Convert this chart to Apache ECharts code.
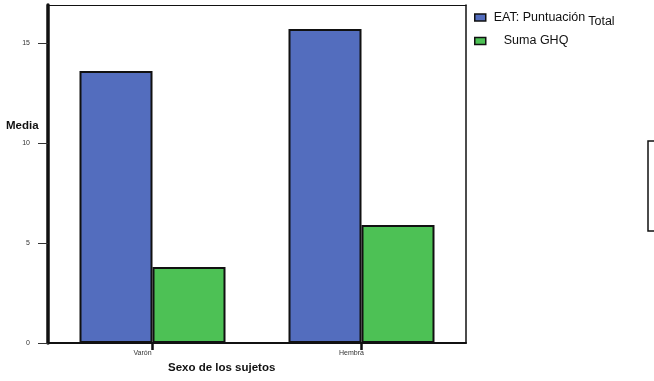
<!DOCTYPE html>
<html>
<head>
<meta charset="utf-8">
<script src="https://cdn.jsdelivr.net/npm/echarts@6/dist/echarts.min.js"></script>
<style>html,body{margin:0;padding:0;background:#fff;}#c{width:654px;height:381px;}</style>
</head>
<body>
<div id="c"></div>
<script>
const categories = ['Varón', 'Hembra'];
const seriesNames = ['EAT: Puntuación Total', 'Suma GHQ'];
const eatValues = [13.6, 15.7];
const ghqValues = [3.8, 5.9];
const yMin = 0, yMax = 16.9, yInterval = 5;
const xTitle = 'Sexo de los sujetos';
const yTitle = 'Media';

const chart = echarts.init(document.getElementById('c'));
const F = 'Liberation Sans, Arial, sans-serif';
chart.setOption({
  backgroundColor: '#fff',
  animation: false,
  grid: {left: 48, right: 188, top: 5, bottom: 38},
  legend: {
    orient: 'vertical', left: 474, top: 11, itemGap: 6, padding: 0,
    itemWidth: 11, itemHeight: 7, icon: 'rect',
    itemStyle: {borderColor: '#111', borderWidth: 1.5},
    data: seriesNames,
    formatter: function (n) {
      if (n === seriesNames[0]) return '{a|EAT: Puntuación}{b|Total}';
      return '{c|' + n + '}';
    },
    textStyle: {
      fontFamily: F, color: '#111', fontSize: 12.5,
      rich: {
        a: {fontFamily: F, fontSize: 12.5, color: '#111', padding: [0, 0, 0, 3]},
        b: {fontFamily: F, fontSize: 12.5, color: '#111', padding: [9, 0, 0, 3]},
        c: {fontFamily: F, fontSize: 12.5, color: '#111', padding: [0, 0, 0, 13]}
      }
    }
  },
  xAxis: [{
    type: 'category', data: categories,
    axisLine: {show: true, lineStyle: {color: '#111', width: 2}},
    axisTick: {show: true, alignWithLabel: true, length: 7, lineStyle: {color: '#111', width: 2.5}},
    axisLabel: {fontFamily: F, fontSize: 7, color: '#333', margin: 7, padding: [0, 20, 0, 0]}
  }, {
    type: 'category', data: categories, position: 'top',
    axisLine: {show: true, onZero: false, lineStyle: {color: '#111', width: 1}},
    axisTick: {show: false}, axisLabel: {show: false}
  }],
  yAxis: [{
    type: 'value', min: yMin, max: yMax, interval: yInterval,
    splitLine: {show: false},
    axisLine: {show: true, lineStyle: {color: '#111', width: 3.5}},
    axisTick: {show: true, length: 10, lineStyle: {color: '#333', width: 1}},
    axisLabel: {fontFamily: F, fontSize: 7, color: '#333', margin: 18,
      showMaxLabel: false}
  }, {
    type: 'value', min: yMin, max: yMax, position: 'right',
    splitLine: {show: false},
    axisLine: {show: true, onZero: false, lineStyle: {color: '#111', width: 1.5}},
    axisTick: {show: false}, axisLabel: {show: false}
  }],
  series: [{
    name: seriesNames[0], type: 'bar', data: eatValues,
    barWidth: 73, barGap: '0%',
    itemStyle: {color: '#536DBE', borderColor: '#111', borderWidth: 2}
  }, {
    name: seriesNames[1], type: 'bar', data: ghqValues,
    barWidth: 73, barGap: '0%',
    itemStyle: {color: '#4DC155', borderColor: '#111', borderWidth: 2}
  }],
  graphic: [
    {type: 'text', left: 6, top: 120,
      style: {text: yTitle, font: 'bold 11.5px ' + F, fill: '#111'}},
    {type: 'text', left: 168, top: 362,
      style: {text: xTitle, font: 'bold 11.5px ' + F, fill: '#111'}},
    {type: 'rect', shape: {x: 648, y: 141, width: 30, height: 90},
      style: {fill: 'none', stroke: '#111', lineWidth: 1.5}}
  ]
});
</script>
</body>
</html>
